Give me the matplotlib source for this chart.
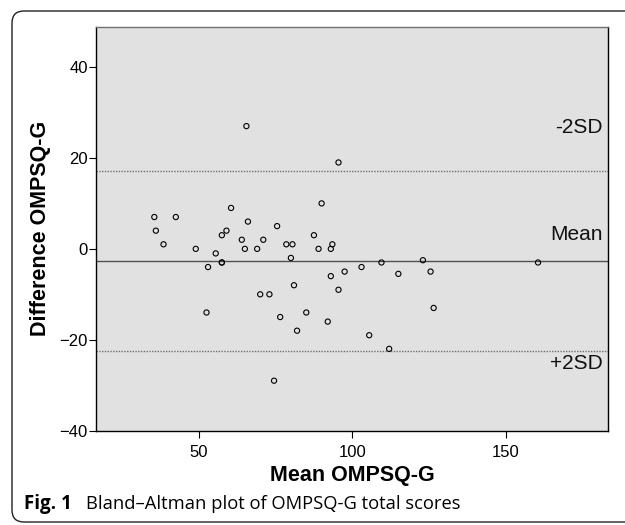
import matplotlib
matplotlib.use('Agg')
import matplotlib.pyplot as plt
import matplotlib.transforms as mtransforms
from matplotlib.patches import FancyBboxPatch

plt.rcParams['font.family'] = ['Liberation Sans', 'DejaVu Sans']

# ========== 数据 ==========
mean_score = [65.5, 95.5, 90.0, 60.5, 35.5, 42.5, 36.0, 66.0, 75.5, 38.5,
              49.0, 57.5, 59.0, 64.0, 65.0, 69.0, 71.0, 55.5, 57.5, 57.5,
              53.0, 78.5, 80.5, 80.0, 87.5, 89.0, 93.5, 93.0, 93.0, 97.5,
              103.0, 109.5, 115.0, 123.0, 125.5, 160.5,
              95.5, 81.0, 70.0, 73.0, 52.5, 76.5, 85.0, 92.0, 82.0, 74.5,
              126.5, 105.5, 112.0]
diff_score = [27, 19, 10, 9, 7, 7, 4, 6, 5, 1,
              0, 3, 4, 2, 0, 0, 2, -1, -3, -3,
              -4, 1, 1, -2, 3, 0, 1, 0, -6, -5,
              -4, -3, -5.5, -2.5, -5, -3,
              -9, -8, -10, -10, -14, -15, -14, -16, -18, -29,
              -13, -19, -22]
mean_diff = -2.65
upper_line = 17.2
lower_line = -22.5
x_ticks = [50, 100, 150]
y_ticks = [-40, -20, 0, 20, 40]

# ========== 画图 ==========
fig = plt.figure(figsize=(6.25, 5.25), dpi=100)
ax = fig.add_axes([0.1536, 0.1796, 0.8192, 0.769])
ax.set_facecolor('#e1e1e1')

ax.axhline(mean_diff, color='#505050', linewidth=1.0, zorder=2)
ax.axhline(upper_line, color='#707070', linewidth=1.0, linestyle=(0, (1, 1)), zorder=2)
ax.axhline(lower_line, color='#707070', linewidth=1.0, linestyle=(0, (1, 1)), zorder=2)

ax.scatter(mean_score, diff_score, s=14, facecolors='none', edgecolors='black',
           linewidths=0.8, zorder=3)

trans = mtransforms.blended_transform_factory(ax.transAxes, ax.transData)
for val, txt, dy in [(upper_line, '-2SD', 31), (mean_diff, 'Mean', 19), (lower_line, '+2SD', -9)]:
    ax.annotate(txt, xy=(1, val), xycoords=trans, xytext=(-4, dy), textcoords='offset points',
                ha='right', va='center', fontsize=15, color='#111111')

ax.set_xlim(16.5, 183.3)
ax.set_ylim(-40, 48.8)
ax.set_xticks(x_ticks)
ax.set_yticks(y_ticks)
ax.tick_params(direction='out', length=5, width=0.8, labelsize=12, colors='black')
ax.tick_params(axis='x', pad=5)
ax.tick_params(axis='y', pad=1)
for side in ['left', 'bottom', 'right']:
    ax.spines[side].set_color('black')
    ax.spines[side].set_linewidth(1.0)
ax.spines['top'].set_color('#707070')
ax.spines['top'].set_linewidth(1.0)

ax.set_xlabel('Mean OMPSQ-G', fontsize=15.5, fontweight='bold', labelpad=4)
ax.set_ylabel('Difference OMPSQ-G', fontsize=15.5, fontweight='bold', labelpad=6)

# 外框（圆角）
box = FancyBboxPatch((0.12, 0.03), 6.4, 5.11, boxstyle='round,pad=0,rounding_size=0.12',
                     transform=fig.dpi_scale_trans, facecolor='none', edgecolor='#222222',
                     linewidth=1.0)
fig.add_artist(box)

# 图注
fig.text(24 / 625, 16 / 525, 'Fig. 1', fontsize=13.5, fontweight='bold', va='baseline',
         family=['Open Sans', 'DejaVu Sans'])
fig.text(86 / 625, 16 / 525, 'Bland\u2013Altman plot of OMPSQ-G total scores', fontsize=13.2,
         va='baseline', family=['Open Sans', 'DejaVu Sans'])

fig.savefig('out.png', dpi=100)
plt.close()
